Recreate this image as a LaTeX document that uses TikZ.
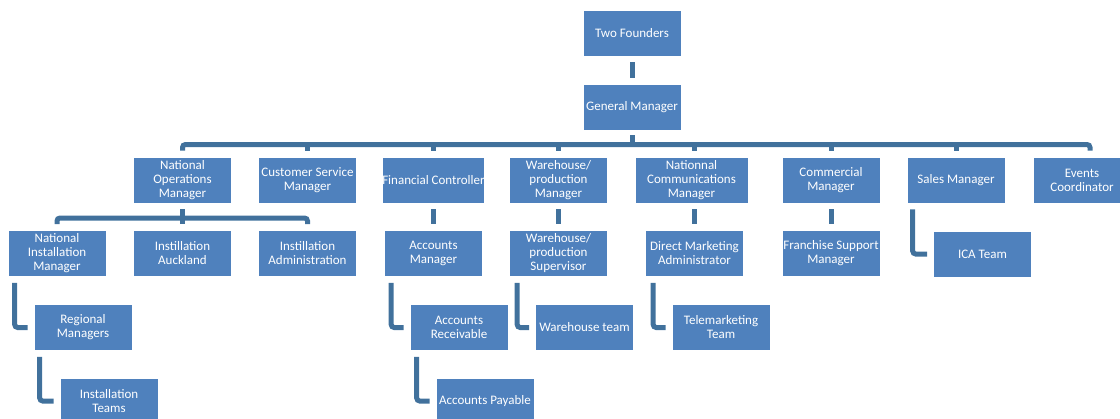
\documentclass[tikz,border=0pt]{standalone}
\usepackage{fontspec}
\setmainfont{Carlito}
\definecolor{boxblue}{HTML}{4F81BD}
\definecolor{linkblue}{HTML}{41719C}

\begin{document}
\begin{tikzpicture}[x=1pt,y=-1pt,
  box/.style={rectangle,fill=boxblue,draw=white,line width=0.6pt,minimum width=98pt,minimum height=46pt,
    inner sep=0pt,align=center,text=white,font=\fontsize{13}{14}\selectfont},
  link/.style={draw=linkblue,line width=5pt},
  elbow/.style={link,rounded corners=3pt,shorten <=6pt,shorten >=6pt}]

  \clip (0,0) rectangle (1120,418);

  \node[box] (tf) at (632,33) {Two Founders};
  \node[box] (gm) at (632,107) {General Manager};

  \node[box] (nom) at (182.5,180) {National\\Operations\\Manager};
  \node[box] (csm) at (307.5,180) {Customer Service\\Manager};
  \node[box] (fc) at (433.5,180) {Financial Controller};
  \node[box] (wpm) at (558.5,180) {Warehouse/\\production\\Manager};
  \node[box,minimum width=113pt] (ncm) at (691.5,180) {Nationnal\\Communications\\Manager};
  \node[box] (cm) at (831,180) {Commercial\\Manager};
  \node[box] (sm) at (956,180) {Sales Manager};
  \node[box] (ec) at (1082,180) {Events\\Coordinator};

  \node[box] (nim) at (57,253.5) {National\\Installation\\Manager};
  \node[box] (ia) at (182.5,253.5) {Instillation\\Auckland};
  \node[box] (iad) at (307.5,253.5) {Instillation\\Administration};
  \node[box] (am) at (433.5,253.5) {Accounts\\Manager};
  \node[box] (wps) at (558.5,253.5) {Warehouse/\\production\\Supervisor};
  \node[box] (dma) at (694.5,253.5) {Direct Marketing\\Administrator};
  \node[box] (fsm) at (831,253.5) {Franchise Support\\Manager};
  \node[box] (ica) at (982.5,254) {ICA Team};

  \node[box] (rm) at (83,327.5) {Regional\\Managers};
  \node[box] (ar) at (459,327.5) {Accounts\\Receivable};
  \node[box] (wt) at (584.5,327.5) {Warehouse team};
  \node[box] (tt) at (721,327.5) {Telemarketing\\Team};

  \node[box] (it) at (109,401) {Installation\\Teams};
  \node[box] (ap) at (485,401) {Accounts Payable};

  \coordinate (bus) at (0,144.5);
  \coordinate (sbus) at (0,218);

  % founders down to the general manager
  \draw[link,shorten <=6pt,shorten >=6pt] (tf) -- (gm);

  % top bus
  \draw[link,shorten <=5pt] (gm.south) -- (gm.south |- bus);
  \draw[elbow] (nom.north) |- (gm.south |- bus) -| ([xshift=8pt]ec.north);
  \foreach \n in {csm,fc,wpm,cm,sm}
    \draw[link,shorten >=6pt] (\n.north |- bus) -- (\n.north);
  \draw[link,shorten >=6pt] (dma.north |- bus) -- (dma.north |- ncm.north);

  % operations bus
  \draw[link,shorten <=6pt] (nom.south) -- (nom.south |- sbus);
  \draw[elbow] (nim.north) |- (ia.north |- sbus) -| (iad.north);
  \draw[link,shorten >=6pt] (ia.north |- sbus) -- (ia.north);

  % straight drops
  \draw[link,shorten <=6pt,shorten >=6pt] (fc) -- (am);
  \draw[link,shorten <=6pt,shorten >=6pt] (wpm) -- (wps);
  \draw[link,shorten <=6pt,shorten >=6pt] (dma.north |- ncm.south) -- (dma.north);
  \draw[link,shorten <=6pt,shorten >=6pt] (cm) -- (fsm);

  % hanging elbows
  \draw[elbow] ([xshift=7pt]nim.south west) |- (rm.west);
  \draw[elbow] ([xshift=6pt]rm.south west) |- (it.west);
  \draw[elbow] ([xshift=7pt]am.south west) |- (ar.west);
  \draw[elbow] ([xshift=7pt]ar.south west) |- (ap.west);
  \draw[elbow] ([xshift=8pt]wps.south west) |- (wt.west);
  \draw[elbow] ([xshift=8pt]dma.south west) |- (tt.west);
  \draw[elbow] ([xshift=6pt]sm.south west) |- (ica.west);
\end{tikzpicture}
\end{document}
